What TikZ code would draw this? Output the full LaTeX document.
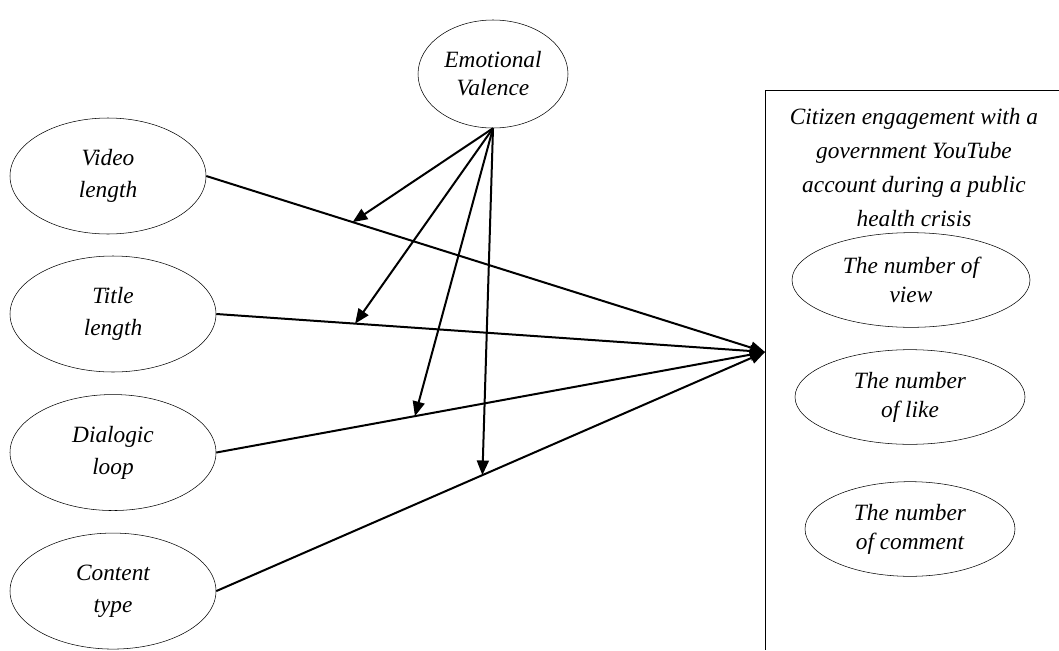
\documentclass[tikz,border=0pt]{standalone}
\usepackage{fontspec}
\setmainfont{Liberation Serif}
\usetikzlibrary{positioning,arrows.meta,shapes.geometric}
\tikzset{
  var/.style={draw, ellipse, thin, inner sep=0pt, minimum width=154.5pt, minimum height=87pt, align=center, font=\fontsize{17.5}{24}\selectfont\itshape},
  outvar/.style={var, minimum height=71pt, font=\fontsize{17.5}{21.75}\selectfont\itshape},
  arr/.style={-{Triangle[length=11pt,width=9pt]}, line width=1.5pt},
}

\begin{document}
\begin{tikzpicture}[x=0.75pt, y=-0.75pt, node distance=16.5pt]
  \useasboundingbox (0,0) rectangle (1059,650);
  % moderator
  \node[var, minimum width=112.5pt, minimum height=81pt, font=\fontsize{17.5}{21}\selectfont\itshape] (emo) at (493,74) {Emotional\\Valence};
  % predictors
  \node[var, minimum width=147pt] (video) at (108,176) {Video\\length};
  \node[var] (title) at (113,314) {Title\\length};
  \node[var, below=of title] (dialog) {Dialogic\\loop};
  \node[var, below=of dialog] (content) {Content\\type};
  % outcome box
  \draw[thin] (1059,90) -- (765,90) -- (765,650);
  \coordinate (hit) at (765,352);
  \node[align=center, font=\fontsize{17.5}{25.5}\selectfont\itshape] (engage) at (914,168)
    {Citizen engagement with a\\government YouTube\\account during a public\\health crisis};
  \node[outvar, minimum width=178.5pt] (view) at (911,280) {The number of\\view};
  \node[outvar, minimum width=172.5pt] (like) at (910,397) {The number\\of like};
  \node[outvar, minimum width=157.5pt] (comment) at (910,529) {The number\\of comment};
  % main effects
  \draw[arr] (video.east) -- coordinate[pos=0.262] (m1) (hit);
  \draw[arr] (title.east) -- coordinate[pos=0.253] (m2) (hit);
  \draw[arr] (dialog.east) -- coordinate[pos=0.362] (m3) (hit);
  \draw[arr] (content.east) -- coordinate[pos=0.485] (m4) (hit);
  % moderation
  \draw[arr] (emo.south) -- (m1);
  \draw[arr] (emo.south) -- (m2);
  \draw[arr] (emo.south) -- (m3);
  \draw[arr] (emo.south) -- (m4);
\end{tikzpicture}
\end{document}
